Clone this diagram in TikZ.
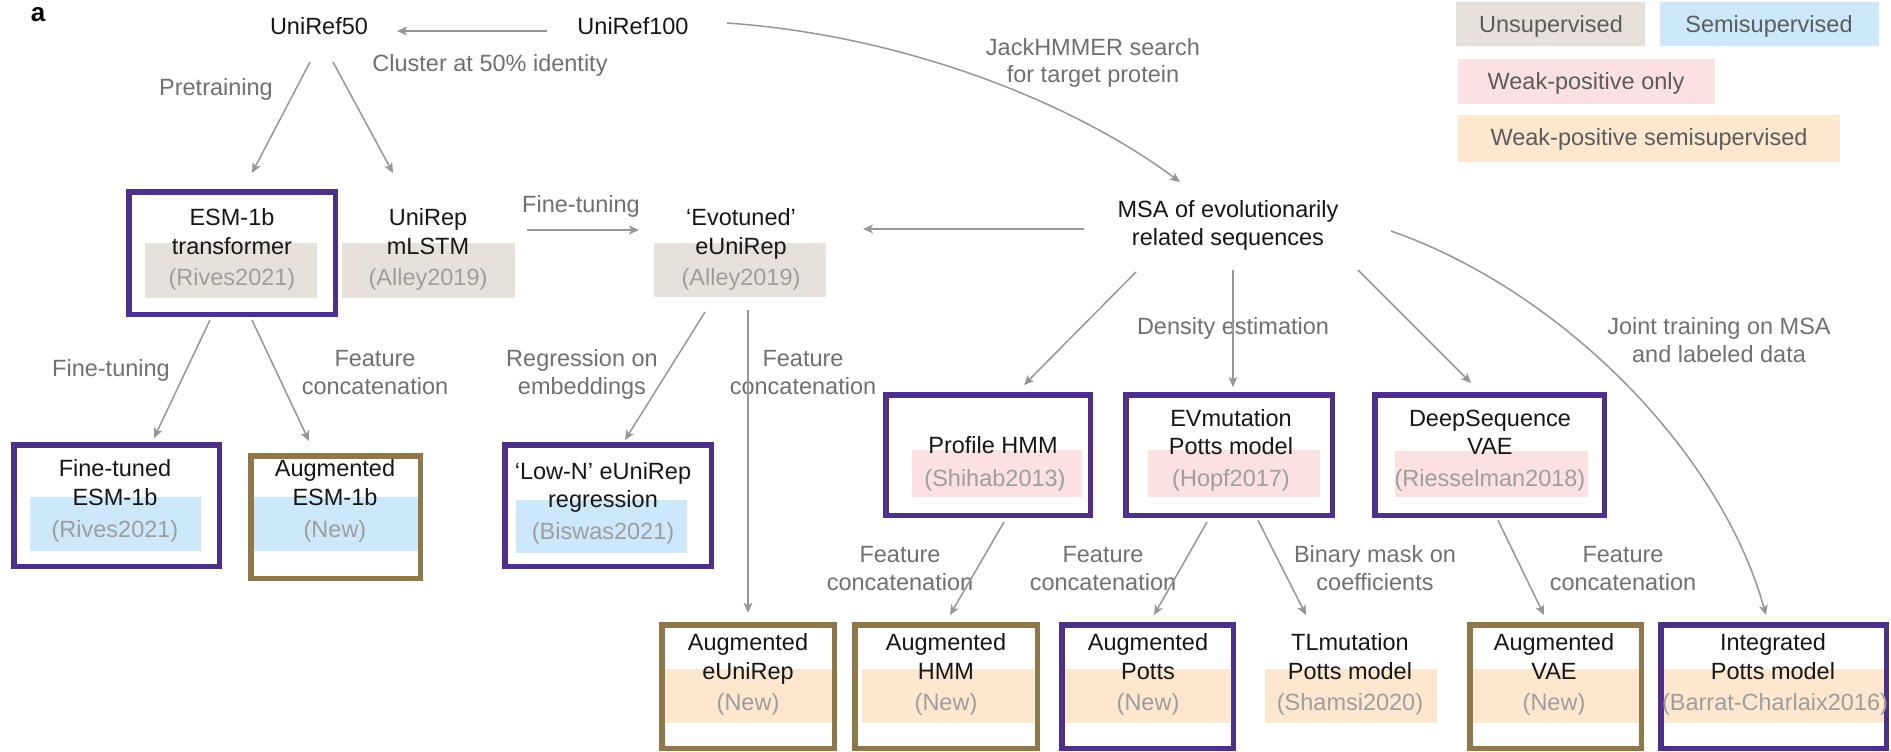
\documentclass[tikz,border=0pt]{standalone}
\usepackage{fontspec}
\setmainfont{Liberation Sans}
\usetikzlibrary{arrows.meta,calc,fit}

\definecolor{boxpurple}{RGB}{78,47,138}
\definecolor{boxbrown}{RGB}{143,119,74}
\definecolor{arrowgray}{RGB}{150,150,150}
\definecolor{labelgray}{RGB}{112,112,112}
\definecolor{citegray}{RGB}{158,158,158}
\definecolor{inkblack}{RGB}{22,22,22}
\definecolor{fillunsup}{RGB}{230,226,219}
\definecolor{fillsemi}{RGB}{205,232,250}
\definecolor{fillweak}{RGB}{251,225,225}
\definecolor{fillweaksemi}{RGB}{253,231,206}
\definecolor{legendtext}{RGB}{92,92,92}

\begin{document}
\begin{tikzpicture}[x=0.5pt,y=-0.5pt,
  every node/.style={font=\fontsize{11.75pt}{14pt}\selectfont, inner sep=0pt, outer sep=0pt},
  inktxt/.style={text=inkblack, anchor=base},
  citetxt/.style={text=citegray, anchor=base},
  lbltxt/.style={text=labelgray, anchor=base},
  legtxt/.style={text=legendtext, anchor=base},
  arr/.style={draw=arrowgray, line width=0.75pt, -{Stealth[length=5pt,width=4.4pt,inset=1.3pt]}},
  pbox/.style={draw=boxpurple, line width=2.75pt},
  bbox/.style={draw=boxbrown, line width=2.75pt},
]
\useasboundingbox (0,0) rectangle (1891,751);

% ---------- legend ----------
\node[fill=fillunsup, fit={(1456,2)(1645,46)}] (legunsup) {};
\node[fill=fillsemi, fit={(1660,2)(1879,46)}] (legsemi) {};
\node[fill=fillweak, fit={(1458,59)(1715,104)}] (legweak) {};
\node[fill=fillweaksemi, fit={(1458,115)(1840,162)}] (legweaksemi) {};
\node[legtxt] (legunsupt) at (1551,32) {Unsupervised};
\node[legtxt] (legsemit) at (1769,32) {Semisupervised};
\node[legtxt] (legweakt) at (1586,89) {Weak-positive only};
\node[legtxt] (legweaksemit) at (1649,145) {Weak-positive semisupervised};

% ---------- category fills behind the citations ----------
\fill[fillunsup] (145,243) rectangle (317,298);
\fill[fillunsup] (342,243) rectangle (515,298);
\fill[fillunsup] (654,243) rectangle (826,297);
\fill[fillsemi] (30,497) rectangle (201,551);
\fill[fillsemi] (252,497) rectangle (420,551);
\fill[fillsemi] (516,500) rectangle (687,553);
\fill[fillweak] (912,450) rectangle (1082,497);
\fill[fillweak] (1148,450) rectangle (1320,497);
\fill[fillweak] (1395,451) rectangle (1588,497);
\fill[fillweaksemi] (665,669) rectangle (832,723);
\fill[fillweaksemi] (862,669) rectangle (1034,723);
\fill[fillweaksemi] (1064,669) rectangle (1230,723);
\fill[fillweaksemi] (1265,669) rectangle (1437,723);
\fill[fillweaksemi] (1471,669) rectangle (1639,723);
\fill[fillweaksemi] (1663,669) rectangle (1884,723);

% ---------- framed models ----------
\node[pbox, fit={(128.75,191.75)(335.25,314.25)}] (esm) {};
\node[pbox, fit={(13.75,444.75)(219.25,566.25)}] (ftesm) {};
\node[bbox, fit={(250.75,455.75)(420.25,578.25)}] (augesm) {};
\node[pbox, fit={(504.75,444.75)(711.25,566.25)}] (lown) {};
\node[pbox, fit={(885.75,394.75)(1090.25,515.25)}] (phmm) {};
\node[pbox, fit={(1125.75,394.75)(1332.25,515.25)}] (evm) {};
\node[pbox, fit={(1374.75,394.75)(1604.25,515.25)}] (deepseq) {};
\node[bbox, fit={(661.75,624.75)(834.25,748.25)}] (augeuni) {};
\node[bbox, fit={(854.75,624.75)(1037.25,748.25)}] (aughmm) {};
\node[pbox, fit={(1061.75,624.75)(1233.25,748.25)}] (augpotts) {};
\node[bbox, fit={(1469.75,624.75)(1641.25,748.25)}] (augvae) {};
\node[pbox, fit={(1660.75,624.75)(1886.25,748.25)}] (integ) {};

% ---------- top row ----------
\node[text=black, anchor=base, font=\fontsize{13pt}{15pt}\selectfont\bfseries] (panel) at (38,21) {a};
\node[inktxt] (u50) at (319,34) {UniRef50};
\node[inktxt] (u100) at (633,34) {UniRef100};
\node[lbltxt] (clusterlbl) at (490,71) {Cluster at 50\% identity};
\node[lbltxt] (pretrainlbl) at (216,95) {Pretraining};
\node[lbltxt] (jacka) at (1093,55) {JackHMMER search};
\node[lbltxt] (jackb) at (1093,82) {for target protein};

% ---------- second row ----------
\node[inktxt] (esmta) at (232,225) {ESM-1b};
\node[inktxt] (esmtb) at (232,254) {transformer};
\node[citetxt] (esmtc) at (232,285) {(Rives2021)};
\node[inktxt] (unirepta) at (428,225) {UniRep};
\node[inktxt] (unireptb) at (428,254) {mLSTM};
\node[citetxt] (unireptc) at (428,285) {(Alley2019)};
\node[lbltxt] (ftlbl) at (581,212) {Fine-tuning};
\node[inktxt] (evota) at (741,225) {‘Evotuned’};
\node[inktxt] (evotb) at (741,254) {eUniRep};
\node[citetxt] (evotc) at (741,285) {(Alley2019)};
\node[inktxt] (msaa) at (1228,217) {MSA of evolutionarily};
\node[inktxt] (msab) at (1228,245) {related sequences};

% ---------- edge labels, middle ----------
\node[lbltxt] (ftlblb) at (111,376) {Fine-tuning};
\node[lbltxt] (fcaa) at (375,366) {Feature};
\node[lbltxt] (fcab) at (375,394) {concatenation};
\node[lbltxt] (rega) at (582,366) {Regression on};
\node[lbltxt] (regb) at (582,394) {embeddings};
\node[lbltxt] (fcba) at (803,366) {Feature};
\node[lbltxt] (fcbb) at (803,394) {concatenation};
\node[lbltxt] (denslbl) at (1233,334) {Density estimation};
\node[lbltxt] (jointa) at (1719,334) {Joint training on MSA};
\node[lbltxt] (jointb) at (1719,362) {and labeled data};

% ---------- third row ----------
\node[inktxt] (ftesmta) at (115,476) {Fine-tuned};
\node[inktxt] (ftesmtb) at (115,505) {ESM-1b};
\node[citetxt] (ftesmtc) at (115,537) {(Rives2021)};
\node[inktxt] (augesmta) at (335,476) {Augmented};
\node[inktxt] (augesmtb) at (335,505) {ESM-1b};
\node[citetxt] (augesmtc) at (335,537) {(New)};
\node[inktxt] (lownta) at (603,479) {‘Low-N’ eUniRep};
\node[inktxt] (lowntb) at (603,507) {regression};
\node[citetxt] (lowntc) at (603,539) {(Biswas2021)};
\node[inktxt] (phmmta) at (993,453) {Profile HMM};
\node[citetxt] (phmmtb) at (995,486) {(Shihab2013)};
\node[inktxt] (evmta) at (1231,426) {EVmutation};
\node[inktxt] (evmtb) at (1231,454) {Potts model};
\node[citetxt] (evmtc) at (1231,486) {(Hopf2017)};
\node[inktxt] (deepta) at (1490,426) {DeepSequence};
\node[inktxt] (deeptb) at (1490,454) {VAE};
\node[citetxt] (deeptc) at (1490,486) {(Riesselman2018)};

% ---------- edge labels, lower ----------
\node[lbltxt] (fcca) at (900,562) {Feature};
\node[lbltxt] (fccb) at (900,590) {concatenation};
\node[lbltxt] (fcda) at (1103,562) {Feature};
\node[lbltxt] (fcdb) at (1103,590) {concatenation};
\node[lbltxt] (binarya) at (1375,562) {Binary mask on};
\node[lbltxt] (binaryb) at (1375,590) {coefficients};
\node[lbltxt] (fcea) at (1623,562) {Feature};
\node[lbltxt] (fceb) at (1623,590) {concatenation};

% ---------- bottom row ----------
\node[inktxt] (augeunita) at (748,650) {Augmented};
\node[inktxt] (augeunitb) at (748,679) {eUniRep};
\node[citetxt] (augeunitc) at (748,710) {(New)};
\node[inktxt] (aughmmta) at (946,650) {Augmented};
\node[inktxt] (aughmmtb) at (946,679) {HMM};
\node[citetxt] (aughmmtc) at (946,710) {(New)};
\node[inktxt] (augpottsta) at (1148,650) {Augmented};
\node[inktxt] (augpottstb) at (1148,679) {Potts};
\node[citetxt] (augpottstc) at (1148,710) {(New)};
\node[inktxt] (tlmta) at (1350,650) {TLmutation};
\node[inktxt] (tlmtb) at (1350,679) {Potts model};
\node[citetxt] (tlmtc) at (1350,710) {(Shamsi2020)};
\node[inktxt] (augvaeta) at (1554,650) {Augmented};
\node[inktxt] (augvaetb) at (1554,679) {VAE};
\node[citetxt] (augvaetc) at (1554,710) {(New)};
\node[inktxt] (integta) at (1773,650) {Integrated};
\node[inktxt] (integtb) at (1773,679) {Potts model};
\node[citetxt] (integtc) at (1775,710) {(Barrat-Charlaix2016)};

% ---------- connectors ----------
\draw[arr] ($(u100.base)+(-86,-3)$) -- ($(u50.base)+(78,-3)$);
\draw[arr] ($(u50.base)+(-9,28)$) -- ($(esm.north)+(20,-18.75)$);
\draw[arr] ($(u50.base)+(14,28)$) -- ($(unirepta.base)+(-35,-52)$);
\draw[arr] ($(unireptb.base)+(99,-24)$) -- ($(evotb.base)+(-102,-24)$);
\draw[arr] ($(u100.base)+(94,-11)$) .. controls +(173,12) and +(-110,-82) .. ($(msaa.base)+(-48,-35)$);
\draw[arr] ($(msaa.base)+(-144,12)$) -- ($(evota.base)+(122,4)$);
\draw[arr] ($(evotc.base)+(-36,27)$) -- ($(lown.north)+(17,-4.75)$);
\draw[arr] ($(evotc.base)+(7,25)$) -- ($(augeuni.north)+(0,-12)$);
\draw[arr] ($(esm.south)+(-22,5.75)$) -- ($(ftesm.north)+(37.5,-6.75)$);
\draw[arr] ($(esm.south)+(20,5.75)$) -- ($(augesm.north)+(-26.5,-14.75)$);
\draw[arr] ($(msab.base)+(-92,27)$) -- ($(phmm.north)+(36,-9.75)$);
\draw[arr] ($(msab.base)+(5,25)$) -- ($(evm.north)+(4,-7.75)$);
\draw[arr] ($(msab.base)+(130,25)$) -- ($(deepseq.north)+(-18.5,-11.75)$);
\draw[arr] ($(msab.base)+(163,-14)$) .. controls +(169,59) and +(-46,-165) .. ($(integ.north)+(-7.5,-9.75)$);
\draw[arr] ($(phmm.south)+(16,6.75)$) -- ($(aughmm.north)+(4,-9.75)$);
\draw[arr] ($(evm.south)+(-22,6.75)$) -- ($(augpotts.north)+(6.5,-9.75)$);
\draw[arr] ($(evm.south)+(29,5)$) -- ($(tlmta.base)+(-44,-35)$);
\draw[arr] ($(deepseq.south)+(8.5,5)$) -- ($(augvae.north)+(-11.5,-9.75)$);
\end{tikzpicture}
\end{document}
